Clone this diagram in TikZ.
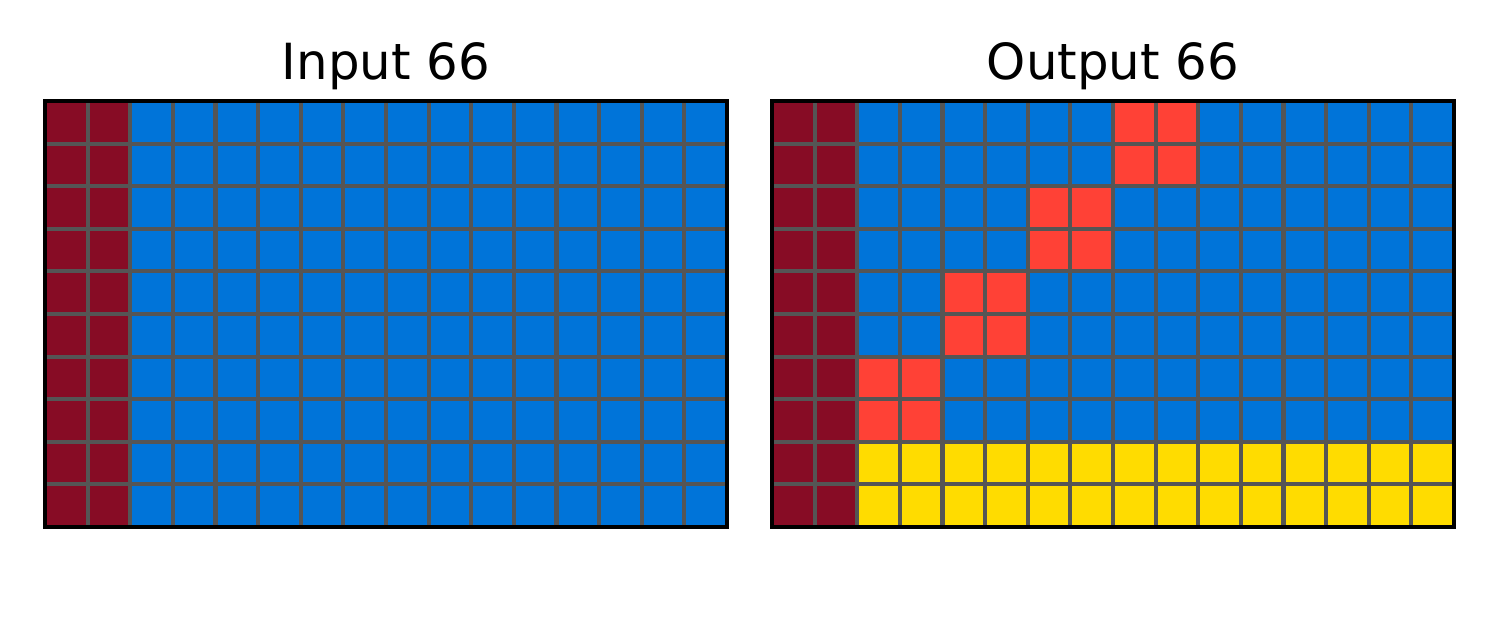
\documentclass[tikz,border=0pt]{standalone}
\usepackage{fontspec}
\setmainfont{DejaVu Sans}
\definecolor{arcblue}{HTML}{0074D9}
\definecolor{arcred}{HTML}{FF4136}
\definecolor{arcyellow}{HTML}{FFDC00}
\definecolor{arcmaroon}{HTML}{870C25}
\definecolor{gridgrey}{HTML}{555555}
\begin{document}
\begin{tikzpicture}[x=0.0846667mm, y=-0.0846667mm,
    title/.style={anchor=base, font=\fontsize{12}{14}\selectfont},
    gridline/.style={draw=gridgrey, line width=1pt},
    frame/.style={draw=black, line width=0.8pt}]
  \useasboundingbox (0,0) rectangle (1500,629);
  % input grid
  \fill[arcblue] (45,101) rectangle +(682,426);
  \fill[arcmaroon] (45,101) rectangle +(85.25,426);
  \foreach \i in {1,...,15}
    \draw[gridline] ({45+\i*42.625},101) -- +(0,426);
  \foreach \j in {1,...,9}
    \draw[gridline] (45,{101+\j*42.6}) -- +(682,0);
  \draw[frame] (45,101) rectangle +(682,426);
  \node[title] (intitle) at (386,80) {Input 66};
  % output grid
  \fill[arcblue] (772,101) rectangle +(682,426);
  \fill[arcmaroon] (772,101) rectangle +(85.25,426);
  \fill[arcyellow] (857.25,441.8) rectangle (1454,527);
  \foreach \c/\r in {8/0,6/2,4/4,2/6}
    \fill[arcred] ({772+\c*42.625},{101+\r*42.6}) rectangle +(85.25,85.2);
  \foreach \i in {1,...,15}
    \draw[gridline] ({772+\i*42.625},101) -- +(0,426);
  \foreach \j in {1,...,9}
    \draw[gridline] (772,{101+\j*42.6}) -- +(682,0);
  \draw[frame] (772,101) rectangle +(682,426);
  \node[title] (outtitle) at (1113,80) {Output 66};
\end{tikzpicture}
\end{document}
